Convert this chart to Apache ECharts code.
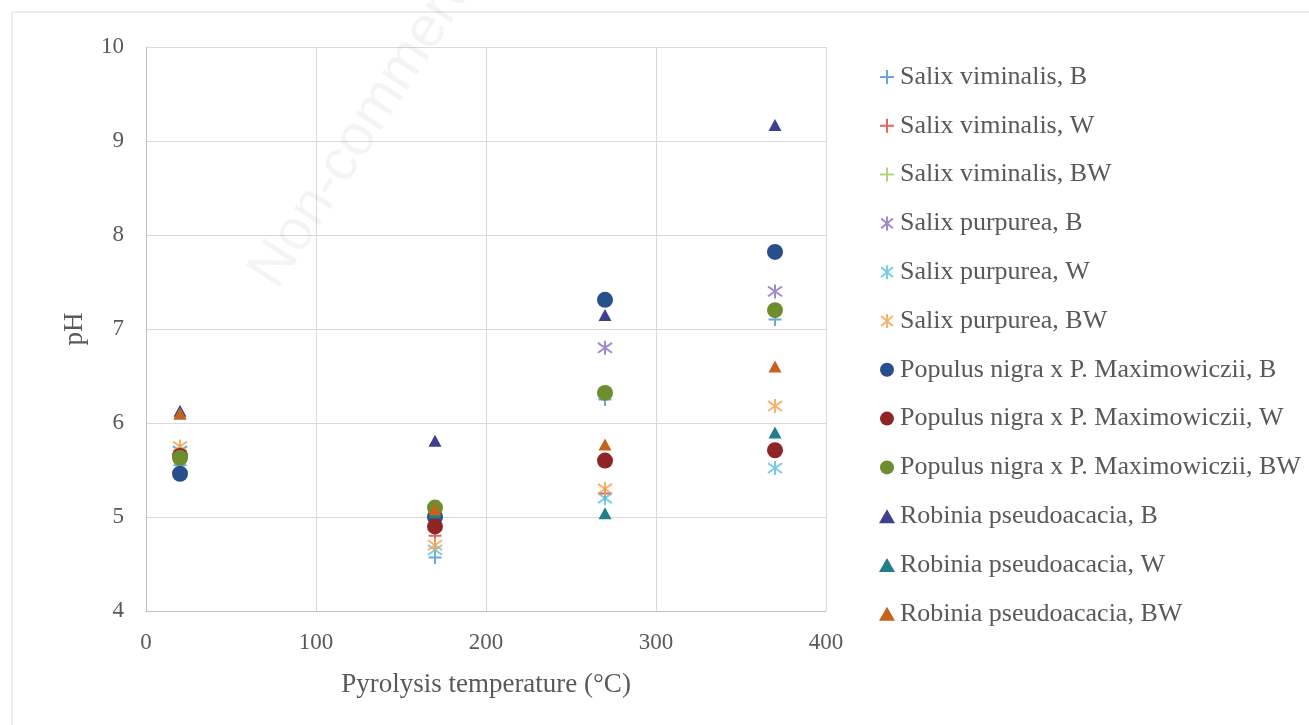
<!DOCTYPE html>
<html>
<head>
<meta charset="utf-8">
<script src="https://cdn.jsdelivr.net/npm/echarts@6/dist/echarts.min.js"></script>
<style>
html,body{margin:0;padding:0;background:#fff;}
#chart{width:1309px;height:725px;}
</style>
</head>
<body>
<div id="chart"></div>
<script>
// ---- data ----
var temperatures = [20, 170, 270, 370];
var seriesNames = [
  'Salix viminalis, B', 'Salix viminalis, W', 'Salix viminalis, BW',
  'Salix purpurea, B', 'Salix purpurea, W', 'Salix purpurea, BW',
  'Populus nigra x P. Maximowiczii, B', 'Populus nigra x P. Maximowiczii, W', 'Populus nigra x P. Maximowiczii, BW',
  'Robinia pseudoacacia, B', 'Robinia pseudoacacia, W', 'Robinia pseudoacacia, BW'
];
var salixViminalisB  = [5.55, 4.57, 6.25, 7.10];
var salixViminalisW  = [5.65, 4.80, 5.25, 5.72];
var salixViminalisBW = [5.62, 5.05, 6.30, 7.18];
var salixPurpureaB   = [5.70, 4.95, 6.80, 7.40];
var salixPurpureaW   = [5.70, 4.65, 5.20, 5.52];
var salixPurpureaBW  = [5.75, 4.70, 5.30, 6.18];
var populusB         = [5.46, 5.00, 7.31, 7.82];
var populusW         = [5.65, 4.90, 5.60, 5.71];
var populusBW        = [5.63, 5.10, 6.32, 7.20];
var robiniaB         = [6.13, 5.81, 7.15, 9.17];
var robiniaW         = [6.10, 5.05, 5.04, 5.90];
var robiniaBW        = [6.10, 5.08, 5.77, 6.60];
var xTicks = [0, 100, 200, 300, 400];
var yTicks = [4, 5, 6, 7, 8, 9, 10];

var allValues = [salixViminalisB, salixViminalisW, salixViminalisBW,
  salixPurpureaB, salixPurpureaW, salixPurpureaBW,
  populusB, populusW, populusBW,
  robiniaB, robiniaW, robiniaBW];

var colors = ['#4A8FD8', '#E23B3B', '#9CCB57',
  '#8A6BC2', '#55C1DD', '#F5A04A',
  '#264F8C', '#8E2424', '#6E8E2E',
  '#3E3F8E', '#247D8A', '#C8601E'];

var PLUS = 'path://M5,0L5,10M0,5L10,5';
var STAR = 'path://M5,0L5,10M0.8,1.5L9.2,8.5M9.2,1.5L0.8,8.5';
var kinds = ['plus','plus','plus','star','star','star','circle','circle','circle','triangle','triangle','triangle'];

var series = allValues.map(function (vals, i) {
  var k = kinds[i];
  var s = {
    name: seriesNames[i],
    type: 'scatter',
    data: temperatures.map(function (t, j) { return [t, vals[j]]; }),
    z: 2 + i
  };
  if (k === 'plus') {
    s.symbol = PLUS; s.symbolSize = 13;
    s.itemStyle = { color: 'rgba(0,0,0,0)', borderColor: colors[i], borderWidth: 2 };
  } else if (k === 'star') {
    s.symbol = STAR; s.symbolSize = 14;
    s.itemStyle = { color: 'rgba(0,0,0,0)', borderColor: colors[i], borderWidth: 2 };
  } else if (k === 'circle') {
    s.symbol = 'circle'; s.symbolSize = 16;
    s.itemStyle = { color: colors[i], opacity: 1 };
  } else {
    s.symbol = 'triangle'; s.symbolSize = [13, 12];
    s.itemStyle = { color: colors[i], opacity: 1 };
  }
  s.emphasis = { disabled: true };
  return s;
});

var chart = echarts.init(document.getElementById('chart'), null, { renderer: 'canvas' });
var textColor = '#595959';
var serif = '"Liberation Serif", "DejaVu Serif", serif';

chart.setOption({
  animation: false,
  backgroundColor: '#ffffff',
  graphic: [
    { type: 'rect', z: -10, shape: { x: 12, y: 12, width: 1400, height: 800 },
      style: { fill: 'none', stroke: '#d9d9d9', lineWidth: 1 } },
    { type: 'text', z: 100, x: 288, y: 298, rotation: 0.995,
      style: { text: 'Non-commercial use only', fill: 'rgba(0,0,0,0.045)',
        font: '58px "Liberation Sans", Arial, sans-serif', textVerticalAlign: 'bottom', textAlign: 'left' } }
  ],
  grid: { left: 146, right: 483, top: 47, bottom: 114, containLabel: false },
  legend: {
    orient: 'vertical',
    left: 874,
    top: 57,
    itemWidth: 16,
    itemHeight: 14,
    itemGap: 18.8,
    textStyle: { color: textColor, fontFamily: serif, fontSize: 26, lineHeight: 30 },
    data: seriesNames
  },
  xAxis: {
    type: 'value',
    min: 0, max: 400, interval: 100,
    name: 'Pyrolysis temperature (°C)',
    nameLocation: 'middle',
    nameGap: 60,
    nameTextStyle: { color: textColor, fontFamily: serif, fontSize: 27 },
    axisLine: { show: true, lineStyle: { color: '#bfbfbf', width: 1 } },
    axisTick: { show: false },
    axisLabel: { color: textColor, fontFamily: serif, fontSize: 23, margin: 20 },
    splitLine: { show: true, lineStyle: { color: '#d9d9d9', width: 1 } }
  },
  yAxis: {
    type: 'value',
    min: 4, max: 10, interval: 1,
    name: 'pH',
    nameLocation: 'middle',
    nameRotate: 90,
    nameGap: 58,
    nameTextStyle: { color: textColor, fontFamily: serif, fontSize: 27 },
    axisLine: { show: true, lineStyle: { color: '#bfbfbf', width: 1 } },
    axisTick: { show: false },
    axisLabel: { color: textColor, fontFamily: serif, fontSize: 23, margin: 22 },
    splitLine: { show: true, lineStyle: { color: '#d9d9d9', width: 1 } }
  },
  series: series
});
</script>
</body>
</html>
